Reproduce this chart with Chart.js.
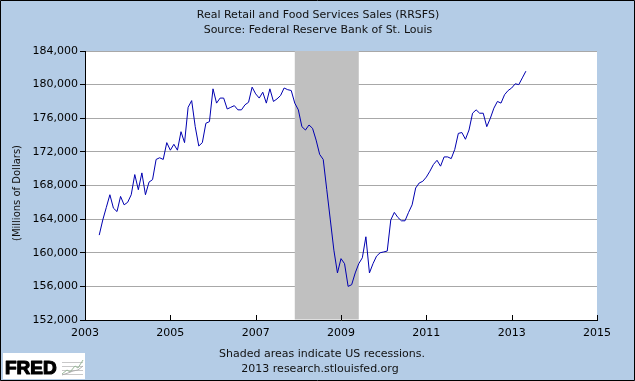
<!DOCTYPE html>
<html><head><meta charset="utf-8">
<script src="https://cdn.jsdelivr.net/npm/chart.js@4/dist/chart.umd.min.js"></script>
<style>html,body{margin:0;padding:0;background:#B4CCE6;}canvas{display:block}</style>
</head><body>
<div style="width:635px;height:381px;position:relative"><canvas id="c" width="635" height="381"></canvas></div>
<script>
// ---- data ----
const titleLines = ['Real Retail and Food Services Sales (RRSFS)', 'Source: Federal Reserve Bank of St. Louis'];
const footerLines = ['Shaded areas indicate US recessions.', '2013 research.stlouisfed.org'];
const yAxisTitle = '(Millions of Dollars)';
const firstMonth = '2003-05';
const sales = [
162100,163900,165400,166900,165300,164900,166700,165700,166000,166900,
169300,167500,169500,166900,168400,168700,171100,171300,171100,173100,
172200,172900,172200,174400,173100,177300,178100,175000,172700,173100,
175400,175600,179500,177800,178400,178400,177100,177300,177500,177000,
177000,177600,177900,179700,178900,178400,179100,177800,179500,178000,
178300,178700,179600,179400,179300,177800,177000,175000,174600,175200,
174800,173400,171700,171100,167500,163900,160300,157600,159300,158700,
156000,156200,157600,158700,159400,161900,157600,158700,159600,160000,
160100,160200,163900,164800,164200,163800,163800,164800,165700,167700,
168300,168500,169000,169700,170500,171000,170300,171400,171400,171200,
172300,174200,174300,173500,174600,176600,177000,176600,176600,175000,
176000,177200,178000,177800,178800,179300,179600,180100,180000,180800,
181600
];
const yTicks = [152000,156000,160000,164000,168000,172000,176000,180000,184000];
const xTickYears = [2003,2005,2007,2009,2011,2013,2015];
const recessions = [['2007-12','2009-06']];

// ---- helpers ----
function monthToYear(s){ const [y,m]=s.split('-').map(Number); return y+(m-1)/12; }
const t0 = monthToYear(firstMonth);
const points = sales.map((v,i)=>({x: t0 + i/12, y: v}));

const BG = '#B4CCE6';
const FONT = '"DejaVu Sans", Verdana, sans-serif';

const deco = {
  id:'deco',
  beforeDraw(chart){
    const ctx = chart.ctx, a = chart.chartArea;
    ctx.save();
    ctx.fillStyle = BG; ctx.fillRect(0,0,chart.width,chart.height);
    ctx.fillStyle = '#fff'; ctx.fillRect(a.left,a.top,a.right-a.left,a.bottom-a.top);
    ctx.restore();
  },
  beforeDatasetsDraw(chart){
    const ctx = chart.ctx, a = chart.chartArea, xs = chart.scales.x;
    ctx.save();
    ctx.fillStyle = '#C0C0C0';
    recessions.forEach(([s,e])=>{
      const x1 = xs.getPixelForValue(monthToYear(s)), x2 = xs.getPixelForValue(monthToYear(e));
      ctx.fillRect(x1, a.top, x2-x1, a.bottom-a.top-0.5);
    });
    ctx.restore();
  },
  afterDraw(chart){
    const ctx = chart.ctx, a = chart.chartArea, xs = chart.scales.x;
    ctx.save();
    // x ticks (inward)
    ctx.strokeStyle = '#000'; ctx.lineWidth = 1;
    xTickYears.forEach(y=>{
      const px = Math.round(xs.getPixelForValue(y)) + 0.5;
      ctx.beginPath(); ctx.moveTo(px, a.bottom); ctx.lineTo(px, a.bottom-5); ctx.stroke();
    });
    // titles
    ctx.fillStyle = '#111'; ctx.textAlign = 'center'; ctx.textBaseline = 'middle';
    ctx.font = '11px ' + FONT;
    ctx.fillText(titleLines[0], 318, 15);
    ctx.fillText(titleLines[1], 318, 30);
    ctx.fillText(footerLines[0], 322, 354);
    ctx.fillText(footerLines[1], 320, 369);
    // y axis title
    ctx.save();
    ctx.translate(17, 193); ctx.rotate(-Math.PI/2);
    ctx.font = '10px ' + FONT;
    ctx.fillText(yAxisTitle, 0, 0);
    ctx.restore();
    // FRED logo
    ctx.fillStyle = '#fff'; ctx.fillRect(3, 353, 82, 26);
    ctx.fillStyle = '#000'; ctx.strokeStyle = '#000'; ctx.lineWidth = 1.2; ctx.lineJoin = 'round';
    ctx.textAlign = 'left'; ctx.textBaseline = 'alphabetic';
    ctx.font = 'bold 19px "Liberation Sans", Arial, sans-serif';
    ctx.fillText('FRED', 5, 374);
    ctx.strokeText('FRED', 5, 374);
    // small chart icon
    ctx.strokeStyle = '#c8c8c8'; ctx.lineWidth = 1;
    for (let i=0;i<4;i++){ ctx.beginPath(); ctx.moveTo(62, 362+i*4+0.5); ctx.lineTo(83, 362+i*4+0.5); ctx.stroke(); }
    ctx.strokeStyle = '#9ab89a';
    ctx.beginPath(); ctx.moveTo(62,374); ctx.lineTo(67,370); ctx.lineTo(70,372); ctx.lineTo(75,366); ctx.lineTo(78,368); ctx.lineTo(83,360); ctx.stroke();
    ctx.strokeStyle = '#b0b0b0';
    ctx.beginPath(); ctx.moveTo(62,375); ctx.lineTo(68,373); ctx.lineTo(73,371); ctx.lineTo(78,370); ctx.lineTo(83,366); ctx.stroke();
    // outer border
    ctx.strokeStyle = '#000'; ctx.lineWidth = 1;
    ctx.strokeRect(0.5, 0.5, chart.width-1, chart.height-1);
    ctx.restore();
  }
};

new Chart(document.getElementById('c'), {
  type: 'line',
  data: { datasets: [{
    label: 'RRSFS', data: points, borderColor: '#0000B0', borderWidth: 1,
    pointRadius: 0, fill: false, tension: 0
  }]},
  options: {
    responsive: false, animation: false, devicePixelRatio: 1,
    layout: { padding: { left: 0, right: 38, top: 51, bottom: 0 } },
    plugins: { legend: { display: false }, tooltip: { enabled: false }, title: { display: false } },
    scales: {
      x: {
        type: 'linear', min: 2003, max: 2015,
        afterBuildTicks: s => { s.ticks = xTickYears.map(v=>({value:v})); },
        afterFit: s => { s.height = 61; },
        grid: { display: false, drawTicks: false },
        border: { display: true, color: '#000', width: 1 },
        ticks: { color: '#000', font: { family: FONT, size: 11 }, padding: 7, maxRotation: 0, autoSkip: false,
                 callback: v => String(v) }
      },
      y: {
        min: 152000, max: 184000,
        afterBuildTicks: s => { s.ticks = yTicks.map(v=>({value:v})); },
        afterFit: s => { s.width = 85; },
        grid: { color: '#A8A8A8', tickColor: '#000', tickLength: 5, lineWidth: 1 },
        border: { display: true, color: '#000', width: 1 },
        ticks: { color: '#000', font: { family: FONT, size: 11 }, padding: 2,
                 callback: v => v.toLocaleString('en-US') }
      }
    }
  },
  plugins: [deco]
});
</script>
</body></html>
